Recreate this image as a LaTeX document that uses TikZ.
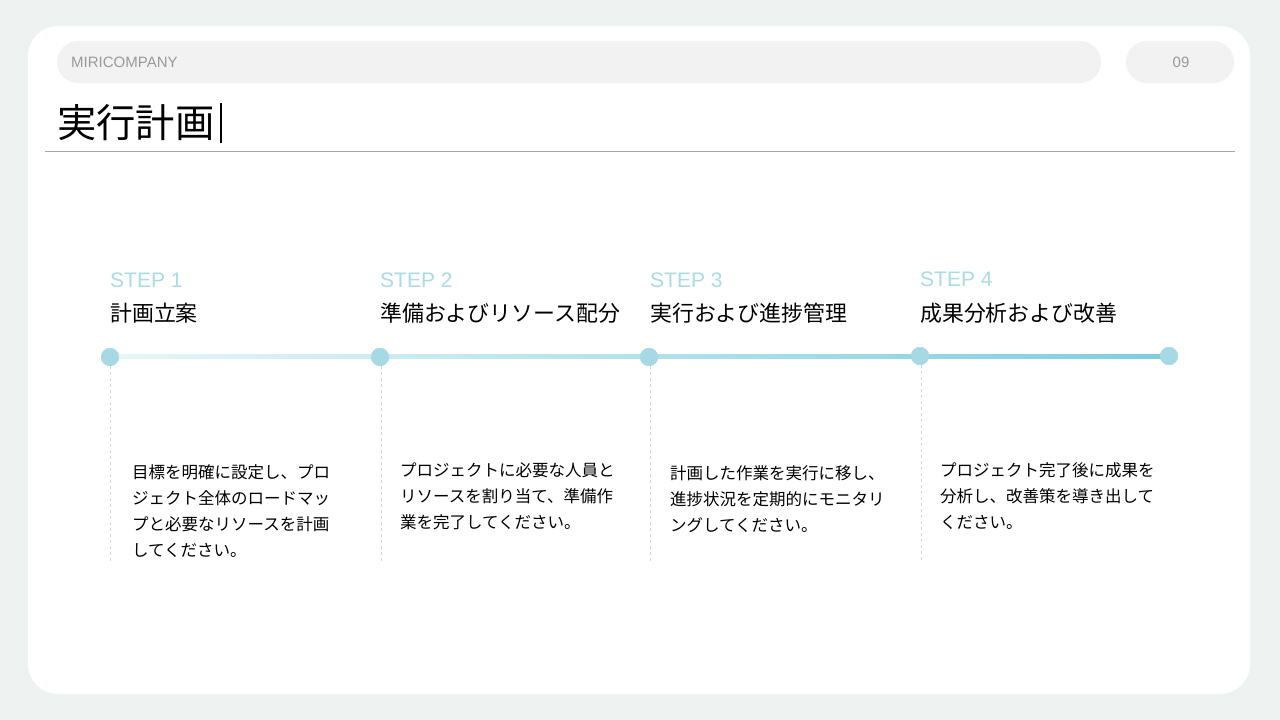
\documentclass[tikz,border=0pt]{standalone}
\usepackage{fontspec}
\setmainfont{Noto Sans CJK JP}
\newfontfamily\latinfont{Liberation Sans}
\usetikzlibrary{calc}
\definecolor{pagebg}{HTML}{EEF2F0}
\definecolor{pillgray}{HTML}{F2F2F2}
\definecolor{stepcol}{HTML}{A9DCE4}
\definecolor{dotcol}{HTML}{A6D9E4}
\definecolor{lineleft}{HTML}{E6F6F9}
\definecolor{lineright}{HTML}{7DCEDE}
\definecolor{dashcol}{HTML}{D8D8D8}
\definecolor{headgray}{HTML}{9A9A9A}
\begin{document}
\begin{tikzpicture}[x=1pt,y=-1pt,
  pill/.style={fill=pillgray,rounded corners=21pt},
  steplbl/.style={anchor=west,inner sep=0pt,text=stepcol,font=\latinfont\fontsize{21}{24}\selectfont},
  steptitle/.style={anchor=west,inner sep=0pt,font=\fontsize{21.9}{24}\selectfont},
  stepdesc/.style={anchor=north west,inner sep=0pt,align=left,font=\fontsize{16.5}{26}\selectfont},
  dot/.style={circle,fill=dotcol,minimum size=18pt,inner sep=0pt},
  guide/.style={draw=dashcol,dashed,line width=1pt}]
\fill[pagebg] (0,0) rectangle (1280,720);
\useasboundingbox (0,0) rectangle (1280,720);
\fill[white,rounded corners=30pt] (28,26) rectangle (1250,694);
\fill[pill] (57,41) rectangle (1101,83);
\fill[pill] (1126,41) rectangle (1234,83);
\node[anchor=west,inner sep=0pt,text=headgray,font=\latinfont\fontsize{15}{16}\selectfont] (brand) at (71,62) {MIRICOMPANY};
\node[inner sep=0pt,text=headgray,font=\latinfont\fontsize{15}{16}\selectfont] (page) at (1181,62) {09};
\node[anchor=west,inner sep=0pt,font=\fontsize{39.3}{42}\selectfont] (title) at (57,123) {実行計画};
\draw[line width=1.5pt] (221,103) -- (221,143);
\draw[gray!70,line width=0.8pt] (45,151) -- (1235,151);

\node[dot] (d1) at (110,357) {};
\node[dot] (d2) at (380,357) {};
\node[dot] (d3) at (649,357) {};
\node[dot] (d4) at (920,356) {};
\node[dot] (d5) at (1169,356) {};
\shade[left color=lineleft,right color=lineright] ($(d1)+(0,-2.5)$) rectangle ($(d5)+(0,2.5)$);
\foreach \d in {d1,d2,d3,d4,d5} \node[dot] at (\d) {};

\coordinate (e1) at (110,562);
\coordinate (e2) at (381,562);
\coordinate (e3) at (650,562);
\coordinate (e4) at (921,562);
\draw[guide] (d1.south) -- (e1);
\draw[guide] (d2.south -| e2) -- (e2);
\draw[guide] (d3.south -| e3) -- (e3);
\draw[guide] (d4.south -| e4) -- (e4);

\node[steplbl] (s1) at (110,280) {STEP 1};
\node[steplbl] (s2) at (380,280) {STEP 2};
\node[steplbl] (s3) at (650,280) {STEP 3};
\node[steplbl] (s4) at (920,279) {STEP 4};

\node[steptitle] (t1) at (110,313) {計画立案};
\node[steptitle] (t2) at (380,313) {準備およびリソース配分};
\node[steptitle] (t3) at (650,313) {実行および進捗管理};
\node[steptitle] (t4) at (920,313) {成果分析および改善};

\node[stepdesc] (p1) at (132,464) {目標を明確に設定し、プロ\\ジェクト全体のロードマッ\\プと必要なリソースを計画\\してください。};
\node[stepdesc] (p2) at (400,462) {プロジェクトに必要な人員と\\リソースを割り当て、準備作\\業を完了してください。};
\node[stepdesc] (p3) at (670,465) {計画した作業を実行に移し、\\進捗状況を定期的にモニタリ\\ングしてください。};
\node[stepdesc] (p4) at (940,462) {プロジェクト完了後に成果を\\分析し、改善策を導き出して\\ください。};
\end{tikzpicture}
\end{document}
